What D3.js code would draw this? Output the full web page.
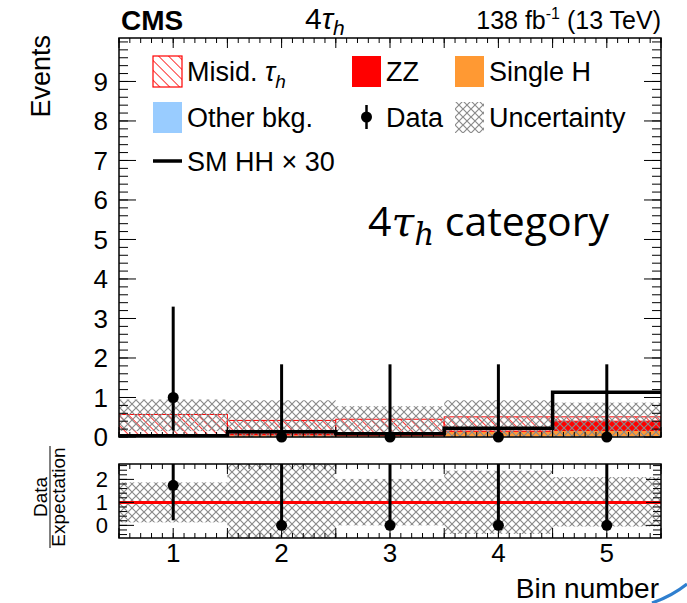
<!DOCTYPE html>
<html>
<head>
<meta charset="utf-8">
<script src="https://cdn.jsdelivr.net/npm/d3@7"></script>
<style>
  body { margin: 0; background: #fff; }
  svg { display: block; font-family: "Liberation Sans", Arial, sans-serif; }
</style>
</head>
<body>
<div id="chart"></div>
<script>
// bins 1..5
var bins = [1, 2, 3, 4, 5];

// stacked backgrounds (bottom to top)
var otherBkg = [0.00, 0.01, 0.01, 0.01, 0.02];
var singleH  = [0.005, 0.03, 0.02, 0.12, 0.13];
var zz       = [0.005, 0.04, 0.04, 0.02, 0.25];
var misid    = [0.56, 0.34, 0.38, 0.36, 0.11];

// uncertainty band in the main panel
var uncLow  = [0.15, 0.00, 0.05, 0.00, 0.00];
var uncHigh = [0.95, 0.93, 0.78, 0.93, 0.87];

// SM HH x 30
var smHH = [0.03, 0.13, 0.08, 0.22, 1.13];

// observed data with Poisson error bars
var dataVal  = [1, 0, 0, 0, 0];
var dataLow  = [0.17, 0, 0, 0, 0];
var dataHigh = [3.30, 1.84, 1.84, 1.84, 1.84];

// ratio panel
var ratioVal  = [1.74, 0, 0, 0, 0];
var ratioLow  = [0.22, 0, 0, 0, 0];
var ratioHigh = [5.7, 4.4, 4.1, 3.6, 3.6];
var ratioUncLow  = [0.13, -0.70, 0.00, -0.37, -0.05];
var ratioUncHigh = [1.87, 2.90, 2.02, 2.38, 2.10];

var yTicksMain = [0, 1, 2, 3, 4, 5, 6, 7, 8, 9];
var yTicksRatio = [0, 1, 2];

var svg = d3.select("#chart").append("svg")
    .attr("width", 687)
    .attr("height", 603);

var defs = svg.append("defs");

// red hatch "\\\"
var hp = defs.append("pattern")
    .attr("id", "hatchRed")
    .attr("patternUnits", "userSpaceOnUse")
    .attr("width", 7).attr("height", 7)
    .attr("patternTransform", "rotate(-45)");
hp.append("rect").attr("width", 7).attr("height", 7).attr("fill", "#fff");
hp.append("line").attr("x1", 0).attr("y1", 0).attr("x2", 0).attr("y2", 7)
    .attr("stroke", "#ff0000").attr("stroke-width", 1.6);

// grey cross hatch
var cp = defs.append("pattern")
    .attr("id", "crossGrey")
    .attr("patternUnits", "userSpaceOnUse")
    .attr("width", 8).attr("height", 8);
cp.append("path").attr("d", "M0,0 L8,8 M8,0 L0,8")
    .attr("stroke", "#8a8a8a").attr("stroke-width", 1.2).attr("fill", "none");

var left = 119, right = 661;
var main = {top: 38, bottom: 437};
var rat = {top: 464, bottom: 538};

var x = d3.scaleLinear().domain([0.5, 5.5]).range([left, right]);
var y = d3.scaleLinear().domain([0, 10.1]).range([main.bottom, main.top]);
var yr = d3.scaleLinear().domain([-0.55, 2.67]).range([rat.bottom, rat.top]);

defs.append("clipPath").attr("id", "clipMain").append("rect")
    .attr("x", left).attr("y", main.top).attr("width", right - left).attr("height", main.bottom - main.top);
defs.append("clipPath").attr("id", "clipRatio").append("rect")
    .attr("x", left).attr("y", rat.top).attr("width", right - left).attr("height", rat.bottom - rat.top);

// ---------- main panel ----------
var gMain = svg.append("g").attr("clip-path", "url(#clipMain)");

var table = bins.map(function (b, i) {
    return {bin: b, other: otherBkg[i], singleH: singleH[i], zz: zz[i], misid: misid[i]};
});
var keys = ["other", "singleH", "zz", "misid"];
var fills = {other: "#99ccff", singleH: "#ff9933", zz: "#ff0000", misid: "url(#hatchRed)"};
var stack = d3.stack().keys(keys)(table);

stack.forEach(function (layer) {
    gMain.append("g").selectAll("rect")
        .data(layer)
        .enter()
        .append("rect")
        .attr("x", d => x(d.data.bin - 0.5))
        .attr("width", d => x(d.data.bin + 0.5) - x(d.data.bin - 0.5))
        .attr("y", d => y(d[1]))
        .attr("height", d => Math.max(0, y(d[0]) - y(d[1])))
        .attr("fill", fills[layer.key])
        .attr("stroke", layer.key == "misid" ? "#ff0000" : "none")
        .attr("stroke-width", 1);
});

gMain.append("g").selectAll("rect")
    .data(bins)
    .enter()
    .append("rect")
    .attr("x", d => x(d - 0.5))
    .attr("width", d => x(d + 0.5) - x(d - 0.5))
    .attr("y", (d, i) => y(uncHigh[i]))
    .attr("height", (d, i) => y(uncLow[i]) - y(uncHigh[i]))
    .attr("fill", "url(#crossGrey)");

// SM HH step line
var stepPts = [];
bins.forEach(function (b, i) {
    stepPts.push([b - 0.5, smHH[i]]);
    stepPts.push([b + 0.5, smHH[i]]);
});
gMain.append("path")
    .attr("d", d3.line().x(d => x(d[0])).y(d => y(d[1]))(stepPts))
    .attr("fill", "none")
    .attr("stroke", "#000")
    .attr("stroke-width", 3.5);

// data
gMain.append("g").selectAll("line")
    .data(bins)
    .enter()
    .append("line")
    .attr("x1", d => x(d)).attr("x2", d => x(d))
    .attr("y1", (d, i) => y(dataLow[i]))
    .attr("y2", (d, i) => y(dataHigh[i]))
    .attr("stroke", "#000").attr("stroke-width", 3);
svg.append("g").selectAll("circle")
    .data(bins)
    .enter()
    .append("circle")
    .attr("cx", d => x(d))
    .attr("cy", (d, i) => y(dataVal[i]))
    .attr("r", 5.5)
    .attr("fill", "#000");

// ---------- ratio panel ----------
var gRat = svg.append("g").attr("clip-path", "url(#clipRatio)");
gRat.append("g").selectAll("rect")
    .data(bins)
    .enter()
    .append("rect")
    .attr("x", d => x(d - 0.5))
    .attr("width", d => x(d + 0.5) - x(d - 0.5))
    .attr("y", (d, i) => yr(ratioUncHigh[i]))
    .attr("height", (d, i) => yr(ratioUncLow[i]) - yr(ratioUncHigh[i]))
    .attr("fill", "url(#crossGrey)");
gRat.append("line")
    .attr("x1", left).attr("x2", right)
    .attr("y1", yr(1)).attr("y2", yr(1))
    .attr("stroke", "#ff0000").attr("stroke-width", 3);
gRat.append("g").selectAll("line")
    .data(bins)
    .enter()
    .append("line")
    .attr("x1", d => x(d)).attr("x2", d => x(d))
    .attr("y1", (d, i) => yr(ratioLow[i]))
    .attr("y2", (d, i) => yr(ratioHigh[i]))
    .attr("stroke", "#000").attr("stroke-width", 3);
gRat.append("g").selectAll("circle")
    .data(bins)
    .enter()
    .append("circle")
    .attr("cx", d => x(d))
    .attr("cy", (d, i) => yr(ratioVal[i]))
    .attr("r", 5.5)
    .attr("fill", "#000");

// ---------- axes and frames ----------
function frame(top, bottom) {
    svg.append("rect")
        .attr("x", left).attr("y", top)
        .attr("width", right - left).attr("height", bottom - top)
        .attr("fill", "none").attr("stroke", "#000").attr("stroke-width", 1.5);
}
frame(main.top, main.bottom);
frame(rat.top, rat.bottom);

function ticks(scale, values, orient, pos, len) {
    var g = svg.append("g");
    g.selectAll("line")
        .data(values)
        .enter()
        .append("line")
        .attr("stroke", "#000").attr("stroke-width", 1)
        .each(function (v) {
            var s = d3.select(this), p = scale(v);
            if (orient == "left")   s.attr("x1", pos).attr("x2", pos + len).attr("y1", p).attr("y2", p);
            if (orient == "right")  s.attr("x1", pos).attr("x2", pos - len).attr("y1", p).attr("y2", p);
            if (orient == "bottom") s.attr("y1", pos).attr("y2", pos - len).attr("x1", p).attr("x2", p);
            if (orient == "top")    s.attr("y1", pos).attr("y2", pos + len).attr("x1", p).attr("x2", p);
        });
}
var round = v => Math.round(v * 100) / 100;
var yMinorMain = d3.range(0, 10.1, 0.2).map(round);
var yMinorRat = d3.range(-0.4, 2.67, 0.2).map(round);
var xMajor = d3.range(0.5, 5.51, 0.5).map(round);
var xMinor = d3.range(0.5, 5.51, 0.1).map(round);

ticks(y, yTicksMain, "left", left, 17);
ticks(y, yMinorMain, "left", left, 9);
ticks(y, yTicksMain, "right", right, 17);
ticks(y, yMinorMain, "right", right, 9);
ticks(x, xMajor, "top", main.top, 10);
ticks(x, xMinor, "top", main.top, 5);
ticks(x, xMajor, "bottom", main.bottom, 10);
ticks(x, xMinor, "bottom", main.bottom, 5);

ticks(yr, yTicksRatio, "left", left, 15);
ticks(yr, yMinorRat, "left", left, 8);
ticks(yr, yTicksRatio, "right", right, 15);
ticks(yr, yMinorRat, "right", right, 8);
ticks(x, xMajor, "top", rat.top, 10);
ticks(x, xMinor, "top", rat.top, 5);
ticks(x, xMajor, "bottom", rat.bottom, 10);
ticks(x, xMinor, "bottom", rat.bottom, 5);

// tick labels
svg.append("g").selectAll("text")
    .data(yTicksMain)
    .enter()
    .append("text")
    .attr("x", 108)
    .attr("y", d => y(d))
    .attr("dy", "0.36em")
    .attr("text-anchor", "end")
    .attr("font-size", 26)
    .text(d => d);
svg.append("g").selectAll("text")
    .data(yTicksRatio)
    .enter()
    .append("text")
    .attr("x", 108)
    .attr("y", d => yr(d))
    .attr("dy", "0.36em")
    .attr("text-anchor", "end")
    .attr("font-size", 22)
    .text(d => d);
svg.append("g").selectAll("text")
    .data(bins)
    .enter()
    .append("text")
    .attr("x", d => x(d))
    .attr("y", 562)
    .attr("text-anchor", "middle")
    .attr("font-size", 26)
    .text(d => d);

// axis titles
svg.append("text")
    .attr("transform", "translate(50,35) rotate(-90)")
    .attr("text-anchor", "end")
    .attr("font-size", 27)
    .text("Events");
svg.append("text")
    .attr("transform", "translate(47,497) rotate(-90)")
    .attr("text-anchor", "middle")
    .attr("font-size", 19)
    .text("Data");
svg.append("line")
    .attr("x1", 50).attr("x2", 50).attr("y1", 446).attr("y2", 548)
    .attr("stroke", "#000").attr("stroke-width", 1);
svg.append("text")
    .attr("transform", "translate(65,497) rotate(-90)")
    .attr("text-anchor", "middle")
    .attr("font-size", 19)
    .text("Expectation");
svg.append("text")
    .attr("x", 659).attr("y", 598)
    .attr("text-anchor", "end")
    .attr("font-size", 28)
    .text("Bin number");

// header
svg.append("text")
    .attr("x", 121).attr("y", 30)
    .attr("font-size", 28).attr("font-weight", "bold")
    .text("CMS");
var hdr = svg.append("text")
    .attr("x", 305).attr("y", 29)
    .attr("font-size", 30);
hdr.append("tspan").text("4");
hdr.append("tspan").attr("font-style", "italic").text("τ");
hdr.append("tspan").attr("font-style", "italic").attr("font-size", 21).attr("dy", 6).text("h");
var lumi = svg.append("text")
    .attr("x", 661).attr("y", 29)
    .attr("text-anchor", "end")
    .attr("font-size", 25);
lumi.append("tspan").text("138 fb");
lumi.append("tspan").attr("font-size", 16).attr("dy", -10).text("-1");
lumi.append("tspan").attr("dy", 10).text(" (13 TeV)");

// category label
var cat = svg.append("text")
    .attr("x", 368).attr("y", 236)
    .attr("font-family", "'Open Sans', sans-serif")
    .attr("font-size", 41);
cat.append("tspan").text("4");
cat.append("tspan").attr("font-family", "'DejaVu Serif', serif").attr("font-style", "italic").text("τ");
cat.append("tspan").attr("font-family", "'DejaVu Serif', serif").attr("font-style", "italic")
    .attr("font-size", 31).attr("dy", 9).text("h");
cat.append("tspan").attr("dy", -9).text(" category");

// ---------- legend ----------
var legend = [
    {label: "Misid. ", tau: true, type: "box", fill: "url(#hatchRed)", stroke: "#ff0000", x: 153, y: 71},
    {label: "ZZ", type: "box", fill: "#ff0000", x: 352, y: 71},
    {label: "Single H", type: "box", fill: "#ff9933", x: 455, y: 71},
    {label: "Other bkg.", type: "box", fill: "#99ccff", x: 153, y: 117},
    {label: "Data", type: "data", x: 352, y: 117},
    {label: "Uncertainty", type: "box", fill: "url(#crossGrey)", x: 455, y: 117},
    {label: "SM HH \u00d7 30", type: "line", x: 153, y: 161}
];
var lg = svg.append("g").selectAll("g")
    .data(legend)
    .enter()
    .append("g")
    .attr("transform", d => "translate(" + d.x + "," + d.y + ")");
lg.filter(d => d.type == "box").append("rect")
    .attr("x", 0).attr("y", -15).attr("width", 29).attr("height", 31)
    .attr("fill", d => d.fill)
    .attr("stroke", d => d.stroke || "none")
    .attr("stroke-width", 1.2);
lg.filter(d => d.type == "line").append("line")
    .attr("x1", 0).attr("x2", 29).attr("y1", 0).attr("y2", 0)
    .attr("stroke", "#000").attr("stroke-width", 3.5);
var dm = lg.filter(d => d.type == "data");
dm.append("line").attr("x1", 14.5).attr("x2", 14.5).attr("y1", -12).attr("y2", 12)
    .attr("stroke", "#000").attr("stroke-width", 2.5);
dm.append("circle").attr("cx", 14.5).attr("cy", 0).attr("r", 5.5).attr("fill", "#000");
var lt = lg.append("text")
    .attr("x", 34)
    .attr("y", 0)
    .attr("dy", "0.36em")
    .attr("font-size", 27)
    .text(d => d.label);
lt.filter(d => d.tau).append("tspan").attr("font-style", "italic").text("τ");
lt.filter(d => d.tau).append("tspan").attr("font-style", "italic")
    .attr("font-size", 19).attr("dy", 7).text("h");

// small blue stroke in the corner of the slide
svg.append("path")
    .attr("d", "M652,603 Q672,596 687,584")
    .attr("fill", "none")
    .attr("stroke", "#2f7fcf")
    .attr("stroke-width", 3);
</script>
</body>
</html>
